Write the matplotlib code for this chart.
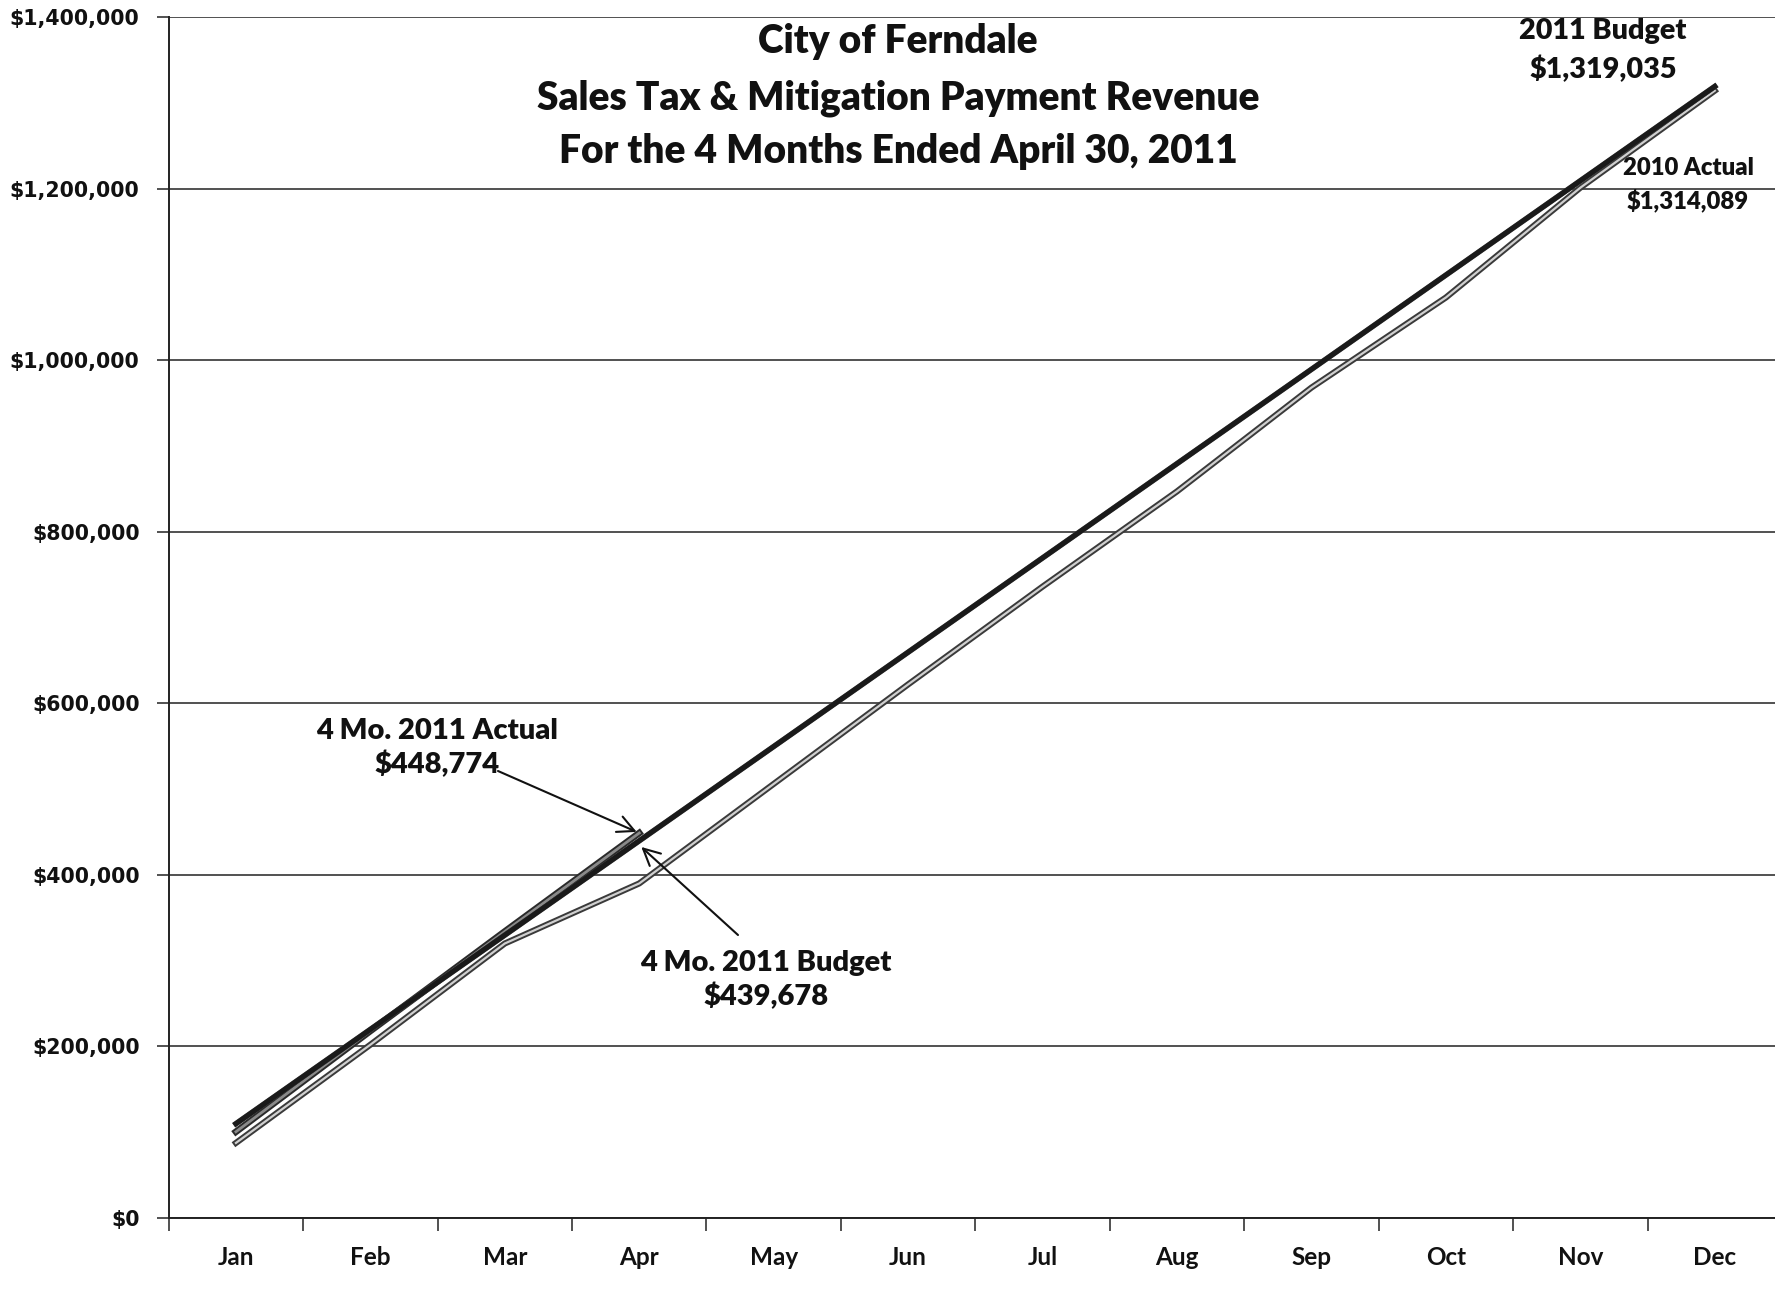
import matplotlib
matplotlib.use("Agg")
import matplotlib.pyplot as plt
import matplotlib.patheffects as pe
from matplotlib.ticker import FuncFormatter, FixedLocator

months = ["Jan", "Feb", "Mar", "Apr", "May", "Jun", "Jul", "Aug", "Sep", "Oct", "Nov", "Dec"]
budget_2011 = [109920, 219840, 329759, 439678, 549598, 659518, 769437, 879357,
               989276, 1099196, 1209115, 1319035]
actual_2011 = [100500, 218000, 334000, 448774]
actual_2010 = [87500, 202000, 320000, 390000, 506000, 622000, 736000, 847000,
               968000, 1073000, 1201000, 1314089]
y_ticks = [0, 200000, 400000, 600000, 800000, 1000000, 1200000, 1400000]

W, H = 1775, 1291
fig = plt.figure(figsize=(W / 100, H / 100), dpi=100)
fig.patch.set_facecolor("white")

left_px, right_px = 168.7, 1782.0
top_px, bot_px = 17.0, 1218.0
ax = fig.add_axes([left_px / W, 1 - bot_px / H, (right_px - left_px) / W, (bot_px - top_px) / H])

x = list(range(len(months)))

# 2010 actual: hollow / outlined grey line
ax.plot(x, actual_2010, color="#d0d0d0", lw=1.6, zorder=3,
        path_effects=[pe.Stroke(linewidth=4.4, foreground="#3a3a3a"), pe.Normal()])
# 2011 actual: grey filled outlined line
ax.plot(x[:len(actual_2011)], actual_2011, color="#8a8a8a", lw=2.0, zorder=4,
        path_effects=[pe.Stroke(linewidth=4.8, foreground="#2a2a2a"), pe.Normal()])
# 2011 budget: solid dark line
ax.plot(x, budget_2011, color="#1a1a1a", lw=3.6, zorder=5,
        path_effects=[pe.Stroke(linewidth=4.0, foreground="#444444"), pe.Normal()])

ax.set_xlim(-0.5, 11.5)
ax.set_ylim(0, 1400000)

# gridlines
ax.set_yticks(y_ticks)
ax.yaxis.grid(True, color="#222222", lw=1.1)
ax.set_axisbelow(True)
ax.yaxis.set_major_formatter(FuncFormatter(lambda v, p: "${:,.0f}".format(v)))
ax.tick_params(axis="y", length=9, width=1.1, color="#222222", pad=12)
for lab in ax.get_yticklabels():
    lab.set_fontfamily("DejaVu Sans")
    lab.set_fontweight("bold")
    lab.set_fontsize(14.8)
    lab.set_color("#111111")

ax.set_xticks(x)
ax.set_xticklabels(months, fontfamily="Lato", fontweight="bold", fontsize=17.5, color="#111111")
ax.tick_params(axis="x", which="major", length=0, pad=20)
ax.xaxis.set_minor_locator(FixedLocator([i - 0.5 for i in range(13)]))
ax.tick_params(axis="x", which="minor", length=9, width=1.1, color="#222222", direction="out")

for s in ["top", "right"]:
    ax.spines[s].set_visible(False)
for s in ["left", "bottom"]:
    ax.spines[s].set_color("#222222")
    ax.spines[s].set_linewidth(1.4)

tfont = dict(fontfamily="Lato", fontweight="heavy", color="#111111")

def fx(px):
    return px / W

def fy(py):
    return 1 - py / H

# title
fig.text(fx(898), fy(42), "City of Ferndale", ha="center", va="center", fontsize=28, **tfont)
fig.text(fx(898), fy(98), "Sales Tax & Mitigation Payment Revenue", ha="center", va="center", fontsize=28, **tfont)
fig.text(fx(898), fy(152), "For the 4 Months Ended April 30, 2011", ha="center", va="center", fontsize=28, **tfont)

# end labels
fig.text(fx(1603), fy(31), "2011 Budget", ha="center", va="center", fontsize=20.7, **tfont)
fig.text(fx(1603), fy(69), "$1,319,035", ha="center", va="center", fontsize=20.7, **tfont)
fig.text(fx(1688), fy(168), "2010 Actual", ha="center", va="center", fontsize=17.2, **tfont)
fig.text(fx(1688), fy(200), "$1,314,089", ha="center", va="center", fontsize=17.2, **tfont)

# 4-month annotations
fig.text(fx(437), fy(748), "4 Mo. 2011 Actual\n$448,774", ha="center", va="center",
         fontsize=21, linespacing=1.3, **tfont)
fig.text(fx(766), fy(980), "4 Mo. 2011 Budget\n$439,678", ha="center", va="center",
         fontsize=21, linespacing=1.3, **tfont)

arrow = dict(arrowstyle="->", color="#111111", lw=1.5, mutation_scale=30,
             shrinkA=0, shrinkB=2)
ax.annotate("", xy=(3, actual_2011[3]), xytext=(fx(498), fy(771)),
            textcoords="figure fraction", arrowprops=arrow)
ax.annotate("", xy=(3, budget_2011[3] - 5000), xytext=(fx(738), fy(935)),
            textcoords="figure fraction", arrowprops=arrow)

fig.savefig("out.png", dpi=100, facecolor="white")
